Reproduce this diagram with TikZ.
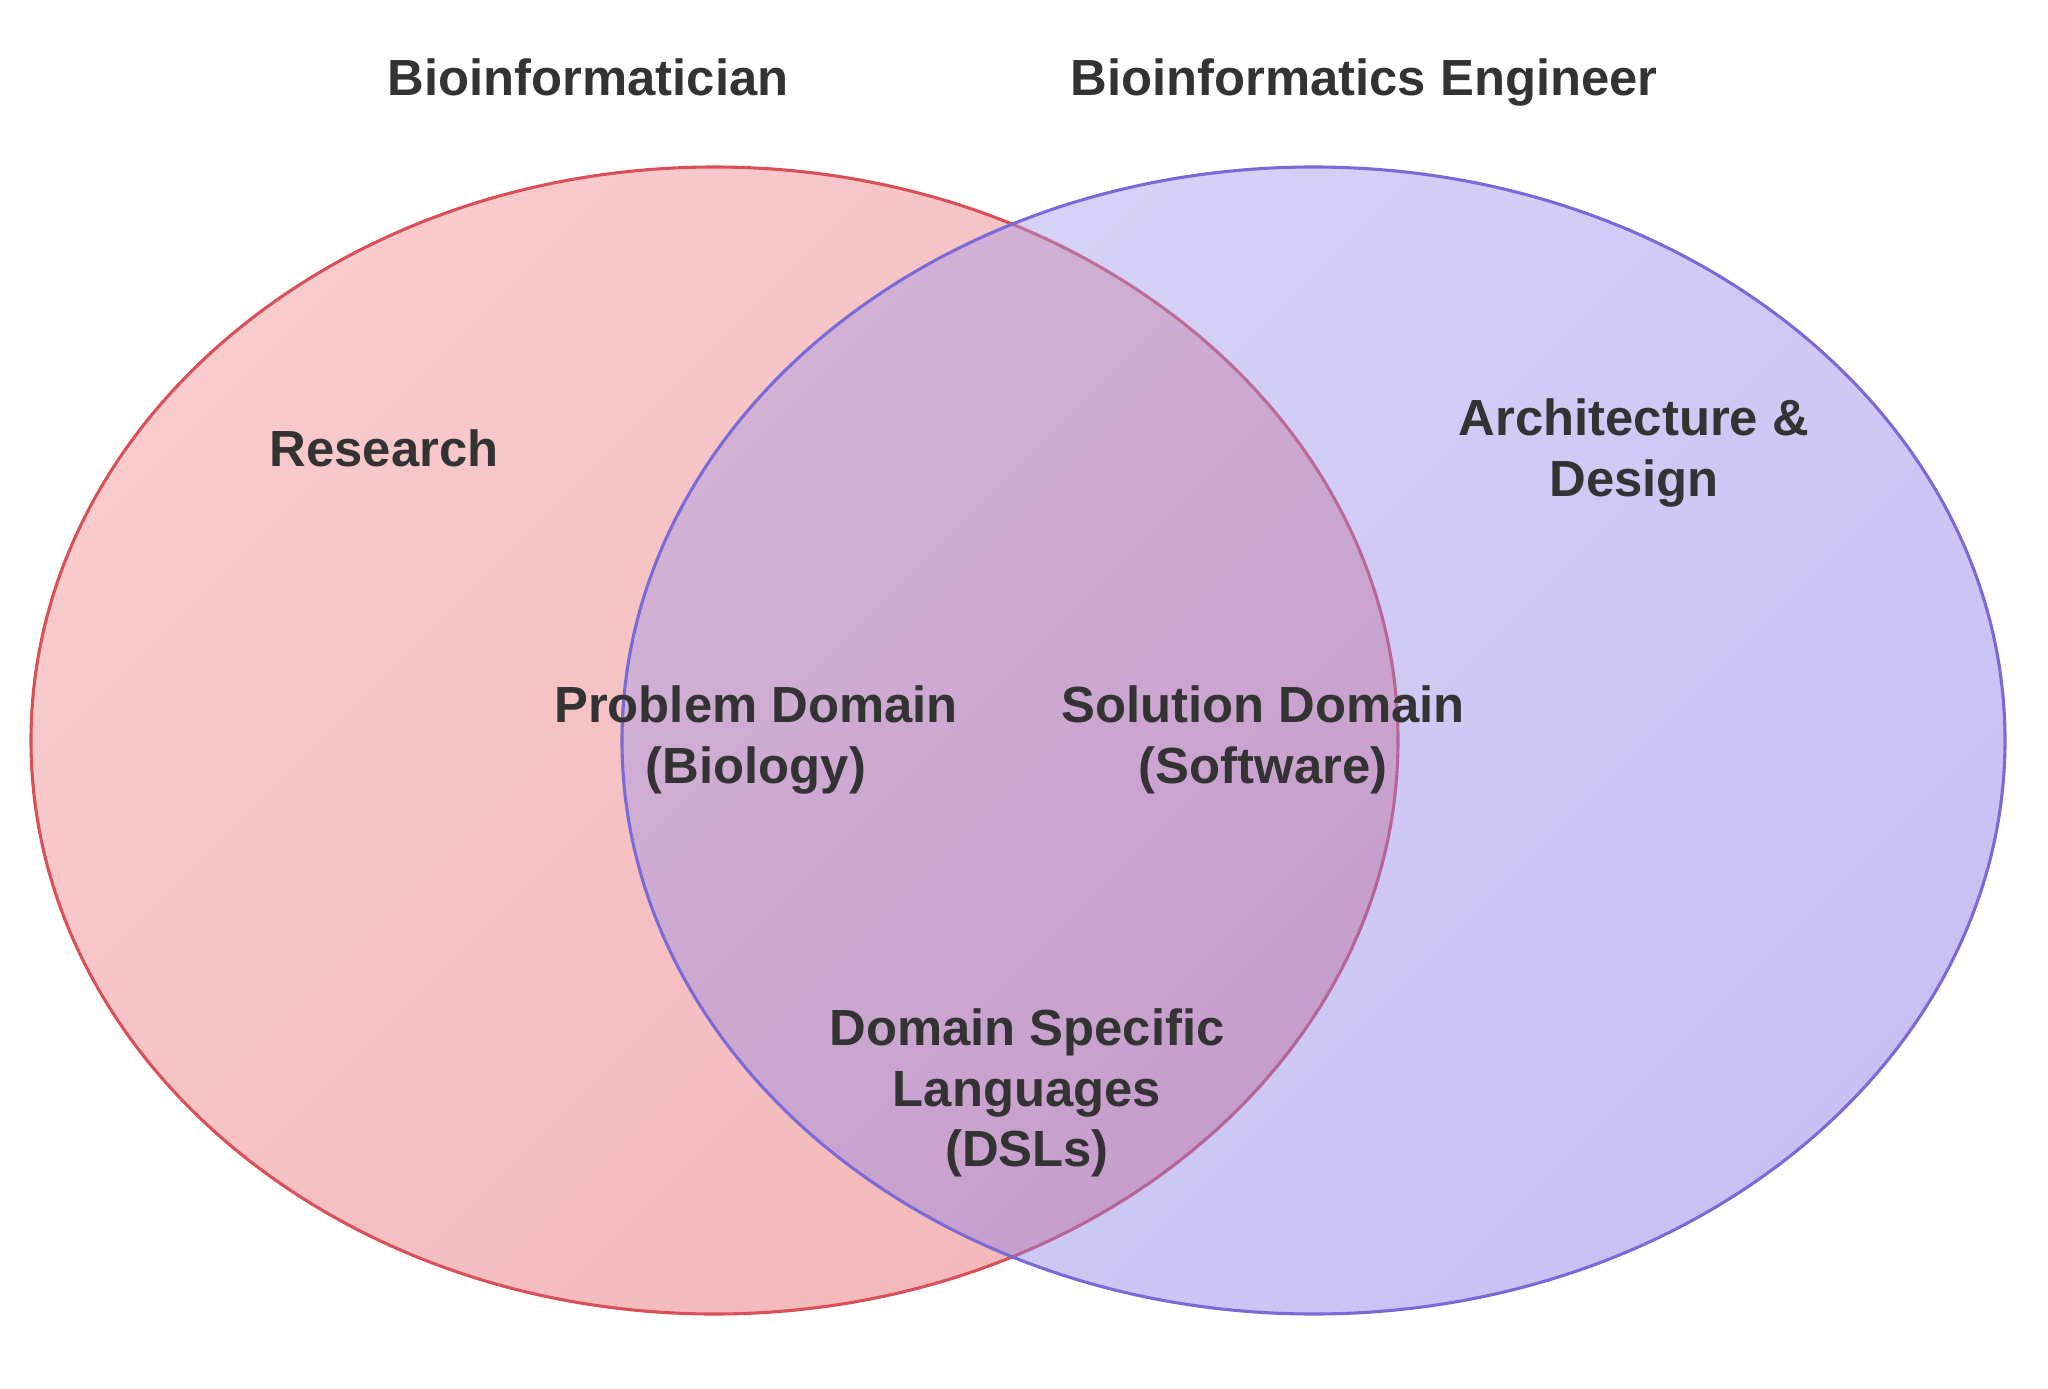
\documentclass[tikz,border=0pt]{standalone}
\usepackage{fontspec}
\setmainfont{Liberation Sans}
\definecolor{ink}{HTML}{333333}
\definecolor{redtop}{RGB}{248,203,205}
\definecolor{redbot}{RGB}{244,183,185}
\definecolor{redline}{RGB}{217,80,88}
\definecolor{bluetop}{RGB}{162,152,233}
\definecolor{bluebot}{RGB}{126,112,228}
\definecolor{blueline}{RGB}{122,106,216}
\begin{document}
\begin{tikzpicture}[x=1bp,y=-1bp,
  lbl/.style={text=ink, font=\bfseries\fontsize{51}{61}\selectfont, align=center, inner sep=0pt},
  setline/.style={line width=3.1bp}]
\useasboundingbox (0,0) rectangle (2048,1389);
% Bioinformatician set
\coordinate (lc) at (714.5,740.5);
\shade[top color=redtop, bottom color=redbot, shading angle=45]
  (lc) ellipse [x radius=683.5, y radius=573.5];
\draw[setline, redline] (lc) ellipse [x radius=683.5, y radius=573.5];
% Bioinformatics Engineer set, translucent over the first
\coordinate (rc) at (1313.5,740.5);
\shade[top color=bluetop, bottom color=bluebot, shading angle=45, fill opacity=0.43]
  (rc) ellipse [x radius=691.5, y radius=573.5];
\draw[setline, blueline] (rc) ellipse [x radius=691.5, y radius=573.5];
% titles
\node[lbl] (tleft) at (588,77) {Bioinformatician};
\node[lbl] (tright) at (1364,82) {Bioinformatics Engineer};
% region labels
\node[lbl] (research) at (384,448) {Research};
\node[lbl] (arch) at (1634,453) {Architecture \&\\Design};
\node[lbl] (problem) at (756,740) {Problem Domain\\(Biology)};
\node[lbl] (solution) at (1263,740) {Solution Domain\\(Software)};
\node[lbl] (dsl) at (1027,1093) {Domain Specific\\Languages\\(DSLs)};
\end{tikzpicture}
\end{document}
